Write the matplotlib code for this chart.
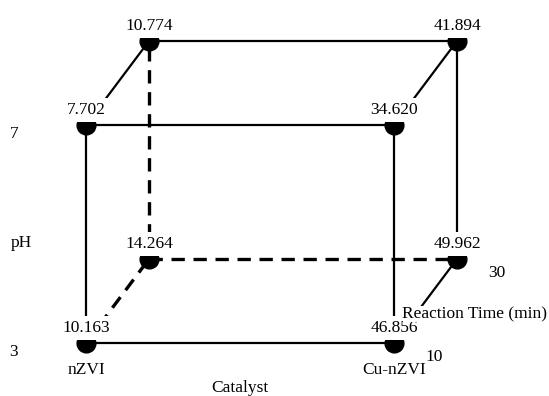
import matplotlib.pyplot as plt

# factor levels
catalysts = ["nZVI", "Cu-nZVI"]
ph_levels = ["3", "7"]
time_levels = ["10", "30"]

# response at each corner, keyed by (catalyst, pH, time) index
responses = {
    (0, 0, 0): 10.163,
    (1, 0, 0): 46.856,
    (0, 1, 0): 7.702,
    (1, 1, 0): 34.620,
    (0, 0, 1): 14.264,
    (1, 0, 1): 49.962,
    (0, 1, 1): 10.774,
    (1, 1, 1): 41.894,
}

# ---- cube layout (pixel space) ----
X0, Y0 = 86, 343      # front bottom-left corner
DX, DY = 308, 218     # catalyst / pH edge lengths
OX, OY = 63, 84       # depth offset for reaction time


def corner(c, p, t):
    return X0 + c * DX + t * OX, Y0 - p * DY - t * OY


hidden = (0, 0, 1)

plt.rcParams['font.family'] = ['Liberation Serif', 'DejaVu Serif']
fig = plt.figure(figsize=(5.49, 3.96), dpi=100)
ax = fig.add_axes([0, 0, 1, 1])
ax.set_xlim(0, 549)
ax.set_ylim(396, 0)
ax.axis('off')

# edges: pairs of corners differing in one factor
keys = list(responses.keys())
for a in keys:
    for b in keys:
        if a < b and sum(i != j for i, j in zip(a, b)) == 1:
            xa, ya = corner(*a)
            xb, yb = corner(*b)
            if hidden in (a, b):
                ax.plot([xa, xb], [ya, yb], color='black', lw=2.4,
                        linestyle=(0, (4, 2.6)), zorder=1)
            else:
                ax.plot([xa, xb], [ya, yb], color='black', lw=1.6, zorder=1)

fs = 12.5
box = dict(boxstyle='square,pad=0.25', fc='white', ec='none')
for key, val in responses.items():
    x, y = corner(*key)
    ax.plot(x, y, 'o', color='black', markersize=13.5, zorder=2)
    ax.text(x, y - 11, f"{val:.3f}", ha='center', va='baseline',
            fontsize=fs, bbox=box, zorder=3)

# factor labels
ax.text(14, Y0 - DY + 9, ph_levels[1], ha='center', va='center', fontsize=fs)
ax.text(21, 243, "pH", ha='center', va='center', fontsize=fs)
ax.text(14, Y0 + 9, ph_levels[0], ha='center', va='center', fontsize=fs)

ax.text(X0, 370, catalysts[0], ha='center', va='center', fontsize=fs)
ax.text(X0 + DX, 370, catalysts[1], ha='center', va='center', fontsize=fs)
ax.text(240, 388, "Catalyst", ha='center', va='center', fontsize=fs)

ax.text(434, 357, time_levels[0], ha='center', va='center', fontsize=fs)
ax.text(497, 273, time_levels[1], ha='center', va='center', fontsize=fs)
ax.text(475, 314, "Reaction Time (min)", ha='center', va='center',
        fontsize=fs, bbox=dict(boxstyle='square,pad=0.0', fc='white', ec='none'),
        zorder=3)

fig.savefig("out.png", dpi=100)
